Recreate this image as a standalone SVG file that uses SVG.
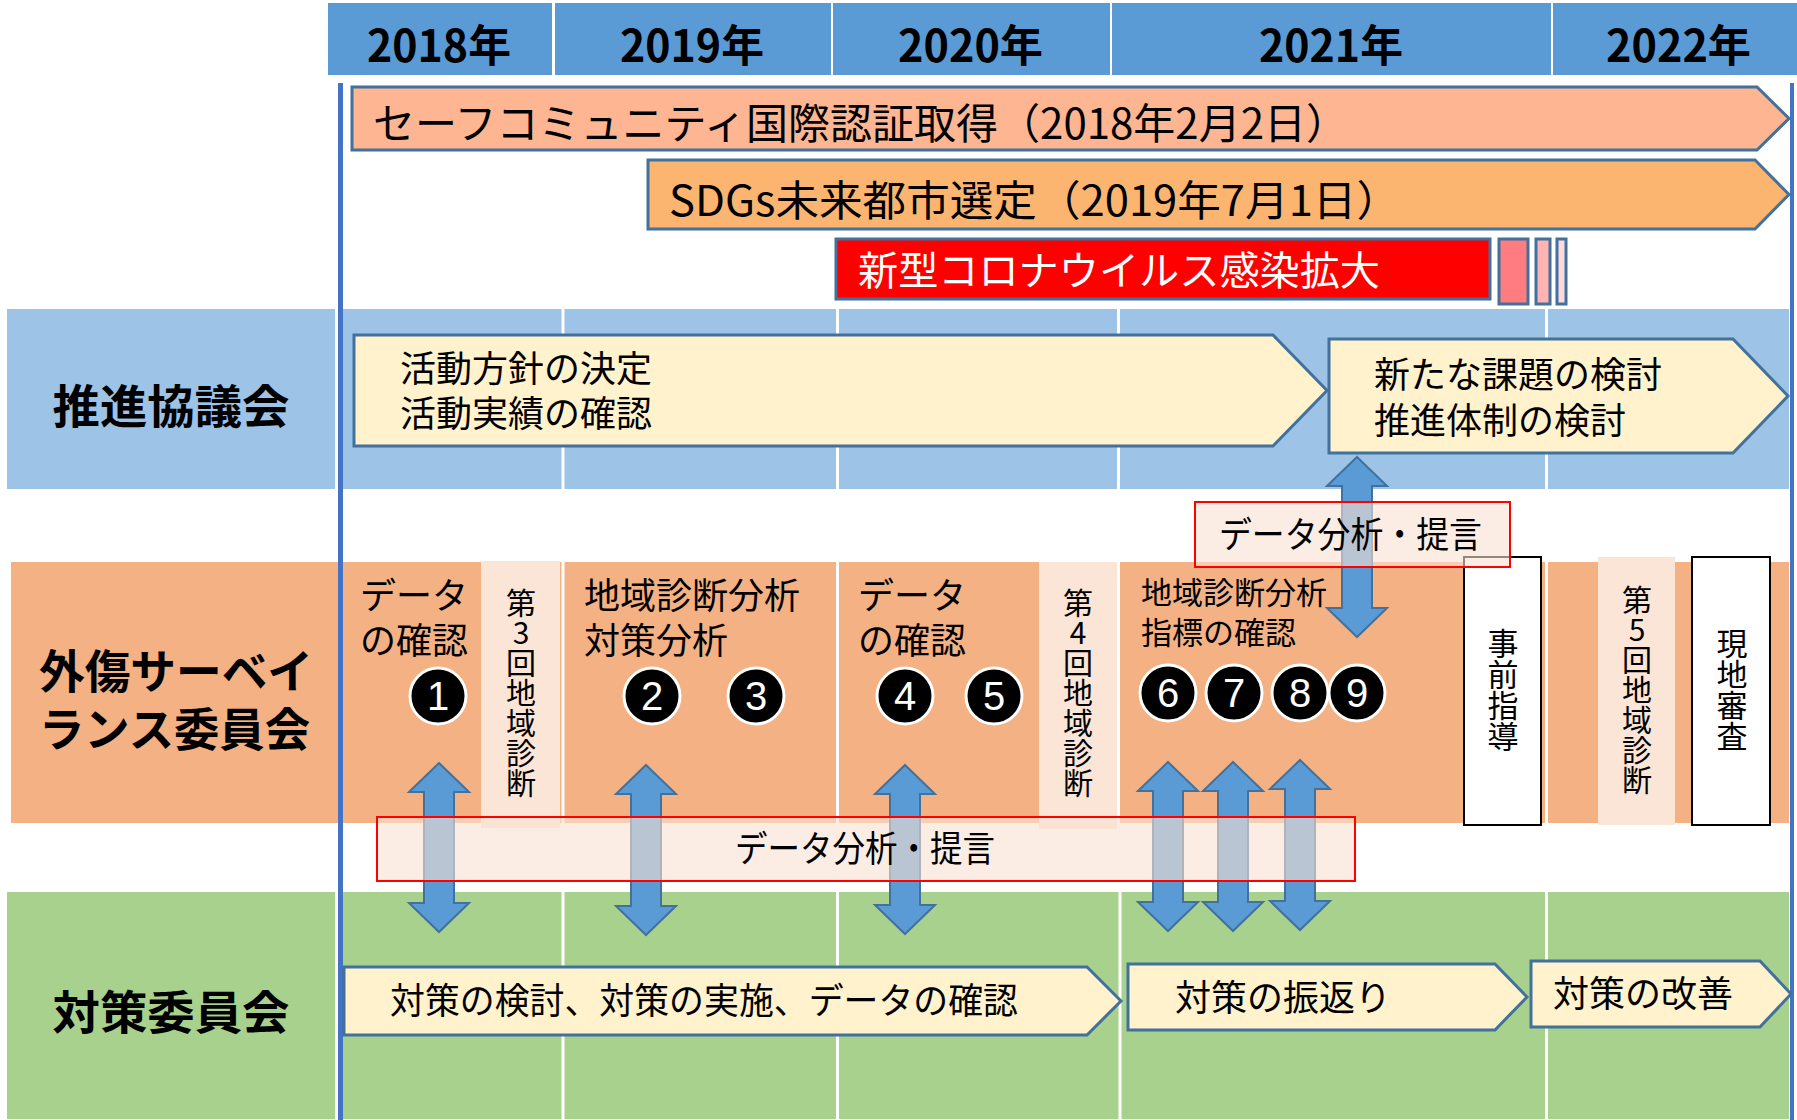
<svg xmlns="http://www.w3.org/2000/svg" width="1797" height="1120" viewBox="0 0 1797 1120">
<style>
.t{font-family:"Noto Sans CJK JP","Noto Sans CJK SC",sans-serif;fill:#000}
.b{font-weight:bold}
.hdr{fill:#5B9BD5}
.lb{fill:#9DC3E6}
.lo{fill:#F4B183}
.lg{fill:#A9D18E}
.sep{stroke:#fff;stroke-width:3}
.box{fill:#FFF2CC;stroke:#41719C;stroke-width:3}
.arr{fill:#5B9BD5;stroke:#41719C;stroke-width:2}
.note{fill:#F8E1D2;fill-opacity:0.6;stroke:#FF0000;stroke-width:2}
.strip{fill:#FBE5D6}
.wbox{fill:#fff;stroke:#000;stroke-width:2}
.num circle{fill:#000;stroke:#fff;stroke-width:3}
.num text{font-family:"Liberation Sans","Noto Sans",sans-serif;fill:#fff;font-size:40px;text-anchor:middle}
.vt{writing-mode:vertical-rl;text-orientation:upright}
</style>
<rect width="1797" height="1120" fill="#fff"/>
<g id="header">
<rect class="hdr" x="328" y="3" width="224" height="72"/>
<rect class="hdr" x="555" y="3" width="276" height="72"/>
<rect class="hdr" x="833" y="3" width="277" height="72"/>
<rect class="hdr" x="1112" y="3" width="439" height="72"/>
<rect class="hdr" x="1553" y="3" width="244" height="72"/>
<text class="t b" x="367" y="62" font-size="44" textLength="144" lengthAdjust="spacingAndGlyphs">2018年</text>
<text class="t b" x="620" y="62" font-size="44" textLength="144" lengthAdjust="spacingAndGlyphs">2019年</text>
<text class="t b" x="898" y="62" font-size="44" textLength="145" lengthAdjust="spacingAndGlyphs">2020年</text>
<text class="t b" x="1259" y="62" font-size="44" textLength="144" lengthAdjust="spacingAndGlyphs">2021年</text>
<text class="t b" x="1606" y="62" font-size="44" textLength="145" lengthAdjust="spacingAndGlyphs">2022年</text>
</g>
<g id="lanes">
<rect class="lb" x="7" y="309" width="328" height="180"/>
<rect class="lb" x="338" y="309" width="1451" height="180"/>
<rect class="lo" x="11" y="562" width="327" height="261"/>
<rect class="lo" x="338" y="562" width="1451" height="261"/>
<rect class="lg" x="7" y="892" width="328" height="227"/>
<rect class="lg" x="338" y="892" width="1451" height="227"/>
<line class="sep" x1="563" y1="309" x2="563" y2="489"/>
<line class="sep" x1="837.5" y1="309" x2="837.5" y2="489"/>
<line class="sep" x1="1118.5" y1="309" x2="1118.5" y2="489"/>
<line class="sep" x1="1546.5" y1="309" x2="1546.5" y2="489"/>
<line class="sep" x1="563" y1="562" x2="563" y2="823"/>
<line class="sep" x1="837.5" y1="562" x2="837.5" y2="823"/>
<line class="sep" x1="1118.5" y1="562" x2="1118.5" y2="823"/>
<line class="sep" x1="1546.5" y1="562" x2="1546.5" y2="823"/>
<line class="sep" x1="563" y1="892" x2="563" y2="1120"/>
<line class="sep" x1="837.5" y1="892" x2="837.5" y2="1120"/>
<line class="sep" x1="1120" y1="892" x2="1120" y2="1120"/>
<line class="sep" x1="1546.5" y1="892" x2="1546.5" y2="1120"/>
<text class="t b" x="171" y="423" font-size="46" text-anchor="middle" textLength="237" lengthAdjust="spacingAndGlyphs">推進協議会</text>
<text class="t b" font-size="46"><tspan x="39" y="688" textLength="274" lengthAdjust="spacingAndGlyphs">外傷サーベイ</tspan><tspan x="39" y="746" textLength="271" lengthAdjust="spacingAndGlyphs">ランス委員会</tspan></text>
<text class="t b" x="171" y="1029" font-size="46" text-anchor="middle" textLength="237" lengthAdjust="spacingAndGlyphs">対策委員会</text>
</g>
<g id="timeline-lines">
<line x1="340.5" y1="83" x2="340.5" y2="1120" stroke="#4472C4" stroke-width="5"/>
<line x1="1792" y1="83" x2="1792" y2="1120" stroke="#4472C4" stroke-width="4"/>
</g>
<g id="safe-community">
<polygon points="352,87 1757,87 1789,118.5 1757,150 352,150" fill="#FDB592" stroke="#41719C" stroke-width="3"/>
<text class="t" x="373" y="139" font-size="42" textLength="975" lengthAdjust="spacingAndGlyphs">セーフコミュニティ国際認証取得（2018年2月2日）</text>
</g>
<g id="sdgs">
<polygon points="648,160 1755,160 1789,194.5 1755,229 648,229" fill="#FBB570" stroke="#41719C" stroke-width="3"/>
<text class="t" x="669" y="216" font-size="42" textLength="731" lengthAdjust="spacingAndGlyphs">SDGs未来都市選定（2019年7月1日）</text>
</g>
<g id="corona">
<rect x="836" y="239" width="654" height="60" fill="#FF0000" stroke="#41719C" stroke-width="3"/>
<text class="t" x="858" y="285" font-size="40" style="fill:#fff" textLength="522" lengthAdjust="spacingAndGlyphs">新型コロナウイルス感染拡大</text>
<rect x="1499" y="239" width="29" height="65" fill="#FF7C80" stroke="#41719C" stroke-width="3"/>
<rect x="1536" y="239" width="14" height="65" fill="#FFB3B3" stroke="#41719C" stroke-width="3"/>
<rect x="1557" y="239" width="9" height="65" fill="#FFD9DC" stroke="#41719C" stroke-width="3"/>
</g>
<g id="promo-activity">
<polygon class="box" points="354,335 1273,335 1327,390.5 1273,446 354,446"/>
<text class="t" font-size="36"><tspan x="400" y="382">活動方針の決定</tspan><tspan x="400" y="427">活動実績の確認</tspan></text>
</g>
<g id="promo-new">
<polygon class="box" points="1329,339 1733,339 1788,396 1733,453 1329,453"/>
<text class="t" font-size="36"><tspan x="1374" y="388">新たな課題の検討</tspan><tspan x="1374" y="434">推進体制の検討</tspan></text>
</g>
<g id="surv-2018">
<text class="t" font-size="36"><tspan x="360" y="609">データ</tspan><tspan x="360" y="654">の確認</tspan></text>
</g>
<g id="diag3">
<rect class="strip" x="481" y="561" width="79" height="267"/>
<text class="t vt" x="521" y="588" font-size="30">第3回地域診断</text>
</g>
<g id="surv-2019">
<text class="t" font-size="36"><tspan x="584" y="609">地域診断分析</tspan><tspan x="584" y="654">対策分析</tspan></text>
</g>
<g id="surv-2020">
<text class="t" font-size="36"><tspan x="858" y="609">データ</tspan><tspan x="858" y="654">の確認</tspan></text>
</g>
<g id="diag4">
<rect class="strip" x="1039" y="562" width="78" height="267"/>
<text class="t vt" x="1078" y="588" font-size="30">第4回地域診断</text>
</g>
<g id="surv-2021">
<text class="t" font-size="31"><tspan x="1141" y="604">地域診断分析</tspan><tspan x="1141" y="644">指標の確認</tspan></text>
</g>
<g id="pre-guidance">
<rect class="wbox" x="1464" y="557" width="77" height="268"/>
<text class="t vt" x="1503" y="628" font-size="31">事前指導</text>
</g>
<g id="diag5">
<rect class="strip" x="1598" y="557" width="77" height="268"/>
<text class="t vt" x="1637" y="585" font-size="30">第5回地域診断</text>
</g>
<g id="site-review">
<rect class="wbox" x="1692" y="557" width="78" height="268"/>
<text class="t vt" x="1732" y="628" font-size="31">現地審査</text>
</g>
<g id="numbers" class="num">
<circle cx="438" cy="696" r="28"/><text x="438" y="710">1</text>
<circle cx="652" cy="696" r="28"/><text x="652" y="710">2</text>
<circle cx="756" cy="696" r="28"/><text x="756" y="710">3</text>
<circle cx="905" cy="696" r="28"/><text x="905" y="710">4</text>
<circle cx="994" cy="696" r="28"/><text x="994" y="710">5</text>
<circle cx="1168" cy="693" r="28"/><text x="1168" y="707">6</text>
<circle cx="1234" cy="693" r="28"/><text x="1234" y="707">7</text>
<circle cx="1300" cy="693" r="28"/><text x="1300" y="707">8</text>
<circle cx="1357" cy="693" r="28"/><text x="1357" y="707">9</text>
</g>
<g id="connectors">
<path class="arr" d="M439,763 L469,792 L454,792 L454,903 L469,903 L439,932 L409,903 L424,903 L424,792 L409,792 Z"/>
<path class="arr" d="M646,765 L676,794 L661,794 L661,906 L676,906 L646,935 L616,906 L631,906 L631,794 L616,794 Z"/>
<path class="arr" d="M905,765 L935,794 L920,794 L920,905 L935,905 L905,934 L875,905 L890,905 L890,794 L875,794 Z"/>
<path class="arr" d="M1168,762 L1198,791 L1183,791 L1183,902 L1198,902 L1168,931 L1138,902 L1153,902 L1153,791 L1138,791 Z"/>
<path class="arr" d="M1233,762 L1263,791 L1248,791 L1248,902 L1263,902 L1233,931 L1203,902 L1218,902 L1218,791 L1203,791 Z"/>
<path class="arr" d="M1300,760 L1330,789 L1315,789 L1315,901 L1330,901 L1300,930 L1270,901 L1285,901 L1285,789 L1270,789 Z"/>
<path class="arr" d="M1357,457 L1387,486 L1372,486 L1372,608 L1387,608 L1357,637 L1327,608 L1342,608 L1342,486 L1327,486 Z"/>
</g>
<g id="note-upper">
<rect class="note" x="1195" y="502" width="315" height="65"/>
<text class="t" x="1219" y="548" font-size="36" textLength="263" lengthAdjust="spacingAndGlyphs">データ分析・提言</text>
</g>
<g id="note-lower">
<rect class="note" x="377" y="817" width="978" height="64"/>
<text class="t" x="735" y="862" font-size="36" textLength="260" lengthAdjust="spacingAndGlyphs">データ分析・提言</text>
</g>
<g id="measure-1">
<polygon class="box" points="344,967 1087,967 1121,1001 1087,1035 344,1035"/>
<text class="t" x="390" y="1014" font-size="36" textLength="628" lengthAdjust="spacingAndGlyphs">対策の検討、対策の実施、データの確認</text>
</g>
<g id="measure-2">
<polygon class="box" points="1128,964 1495,964 1527,997 1495,1030 1128,1030"/>
<text class="t" x="1175" y="1011" font-size="36">対策の振返り</text>
</g>
<g id="measure-3">
<polygon class="box" points="1531,961 1760,961 1791,994 1760,1027 1531,1027"/>
<text class="t" x="1553" y="1007" font-size="36">対策の改善</text>
</g>
</svg>
